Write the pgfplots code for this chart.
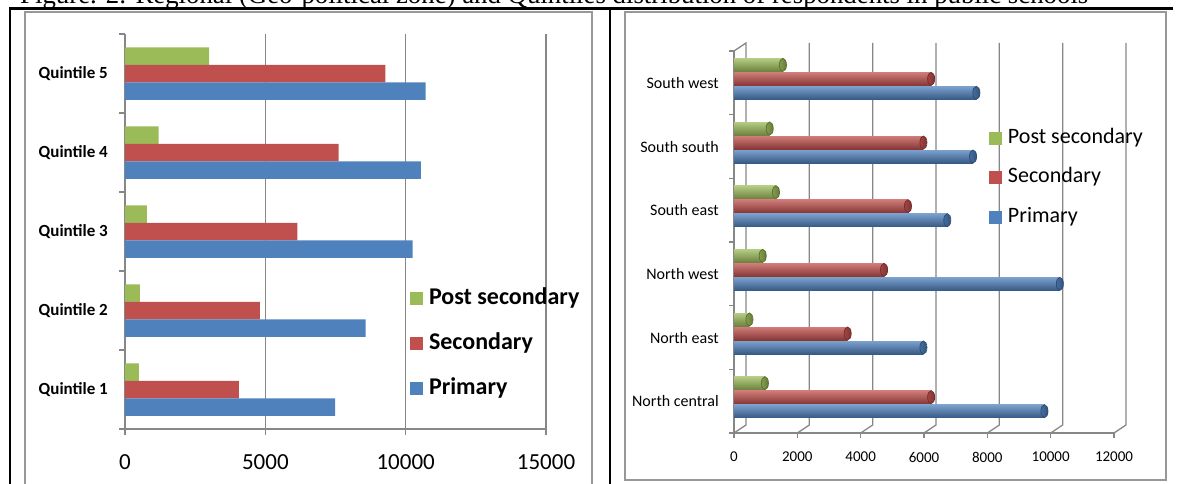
\documentclass[border=0pt]{standalone}
\usepackage{fontspec}
\setmainfont{Carlito}
\newfontfamily\timesfont{Liberation Serif}
\usepackage{pgfplots}
\pgfplotsset{compat=1.18}
\usetikzlibrary{shapes.geometric}
\definecolor{xblue}{HTML}{4F81BD}
\definecolor{xred}{HTML}{C0504D}
\definecolor{xgreen}{HTML}{9BBB59}
\definecolor{framegrey}{HTML}{989898}
\definecolor{axgrey}{HTML}{878787}
\begin{document}
\begin{tikzpicture}[x=1pt,y=1pt]
\useasboundingbox (0,0) rectangle (1178,483);
\clip (0,0) rectangle (1178,483);
% caption (cut off at the top)
\node[anchor=base west, inner sep=0pt, font=\timesfont\fontsize{26.8}{30}\selectfont] at (20,479.5)
  {Figure. 2: Regional (Geo-political zone) and Quintiles distribution of respondents in public schools};
% table rules
\draw[line width=2.6pt] (9,474.5) -- (1173,474.5);
\draw[line width=2pt] (10,475) -- (10,-2);
\draw[line width=2pt] (610,475) -- (610,-2);
% chart frames
\draw[framegrey, line width=2pt] (25,-5) -- (25,471) -- (592,471) -- (592,-5);
\draw[framegrey, line width=2pt] (625,3) rectangle (1166,471);
% 3D back wall of right chart
\begin{scope}[axgrey, line width=1.3pt]
\draw (734,432) -- (746,440) -- (746,58) -- (734,50);
\foreach \k in {1,...,6}{
  \pgfmathsetmacro{\fx}{734+63.333*\k}
  \draw (\fx,50) -- (\fx+12,58) -- (\fx+12,440);
}
\end{scope}

% ---------------- left chart ----------------
\begin{axis}[
  at={(125pt,54pt)}, anchor=south west, scale only axis,
  width=421pt, height=395pt,
  xmin=0, xmax=15000, ymin=-0.5, ymax=4.5,
  xbar,
  axis x line*=bottom, axis y line*=left,
  axis line style={axgrey, line width=1.3pt, -},
  tick style={axgrey, line width=1.2pt},
  tick align=outside, major tick length=6pt,
  xtick={0,5000,10000,15000}, xticklabels={0,5000,10000,15000},
  xticklabel style={anchor=center, yshift=-27pt, font=\fontsize{23}{26}\selectfont},
  xmajorgrids, major grid style={axgrey, line width=1.2pt},
  ytick={-0.5,0.5,...,4.5}, yticklabels={},
  extra y ticks={0,1,2,3,4},
  extra y tick labels={Quintile 1,Quintile 2,Quintile 3,Quintile 4,Quintile 5},
  extra y tick style={major tick length=0pt, grid=none},
  yticklabel style={anchor=east, inner sep=0pt, xshift=-17pt, font=\bfseries\fontsize{17}{20}\selectfont},
  legend image code/.code={\fill[#1, draw=none] (0pt,-6.5pt) rectangle (13pt,6.5pt);},
  legend style={at={(0.677,0.359)}, anchor=north west, draw=none, fill=none,
    inner sep=0pt, outer sep=0pt, row sep=23pt,
    nodes={inner sep=0pt, text height=17pt, text depth=5pt},
    /tikz/every odd column/.append style={column sep=6pt},
    font=\bfseries\fontsize{24}{28}\selectfont},
  legend cell align=left,
]
\addlegendimage{fill=xgreen, draw=none}\addlegendentry{Post secondary}
\addlegendimage{fill=xred, draw=none}\addlegendentry{Secondary}
\addlegendimage{fill=xblue, draw=none}\addlegendentry{Primary}
\addplot[forget plot, xbar, bar width=17.5pt, bar shift=17.5pt, fill=xgreen, draw=none]
  coordinates {(490,0) (531,1) (776,2) (1197,3) (2993,4)};
\addplot[forget plot, xbar, bar width=17.5pt, bar shift=0pt, fill=xred, draw=none]
  coordinates {(4055,0) (4803,1) (6138,2) (7607,3) (9280,4)};
\addplot[forget plot, xbar, bar width=17.5pt, bar shift=-17.5pt, fill=xblue, draw=none]
  coordinates {(7483,0) (8573,1) (10246,2) (10545,3) (10710,4)};
\end{axis}

% ---------------- right chart ----------------
\begin{axis}[
  at={(734pt,50pt)}, anchor=south west, scale only axis,
  width=380pt, height=382pt,
  xmin=0, xmax=12000, ymin=-0.5, ymax=5.5,
  xbar,
  axis x line*=bottom, axis y line*=left,
  axis line style={axgrey, line width=1.3pt, -},
  tick style={axgrey, line width=1.2pt},
  tick align=outside, major tick length=5pt,
  xtick={0,2000,...,12000}, xticklabels={0,2000,4000,6000,8000,10000,12000},
  xticklabel style={anchor=center, yshift=-19pt, font=\fontsize{15}{18}\selectfont},
  ytick={-0.5,0.5,...,5.5}, yticklabels={},
  extra y ticks={0,1,2,3,4,5},
  extra y tick labels={North central,North east,North west,South east,South south,South west},
  extra y tick style={major tick length=0pt},
  yticklabel style={anchor=east, inner sep=0pt, xshift=-15pt, font=\fontsize{16}{19}\selectfont},
  legend image code/.code={\fill[#1, draw=none] (0pt,-6.5pt) rectangle (13pt,6.5pt);},
  legend style={at={(0.671,0.798)}, anchor=north west, draw=none, fill=none,
    inner sep=0pt, outer sep=0pt, row sep=19.5pt,
    nodes={inner sep=0pt, text height=15pt, text depth=5pt},
    /tikz/every odd column/.append style={column sep=6pt},
    font=\fontsize{22}{26}\selectfont},
  legend cell align=left,
  every node near coord/.style={ellipse, anchor=center, inner sep=0pt, minimum width=7pt, minimum height=13pt},
  cyl/.style 2 args={forget plot, xbar, bar width=13pt, bar shift=#2, draw=none,
    top color=#1!75!white, middle color=#1, bottom color=#1!70!black,
    nodes near coords={},
    every node near coord/.append style={yshift=#2, draw=#1!60!black, line width=0.8pt,
      left color=#1!85!black, right color=#1!65!black}},
]
\addlegendimage{fill=xgreen, draw=none}\addlegendentry{Post secondary}
\addlegendimage{fill=xred, draw=none}\addlegendentry{Secondary}
\addlegendimage{fill=xblue, draw=none}\addlegendentry{Primary}
% Post secondary
\addplot[cyl={xgreen}{18pt}] coordinates {(976,0)};
\addplot[cyl={xgreen}{18pt}] coordinates {(488,1)};
\addplot[cyl={xgreen}{18pt}] coordinates {(906,2)};
\addplot[cyl={xgreen}{18pt}] coordinates {(1324,3)};
\addplot[cyl={xgreen}{18pt}] coordinates {(1127,4)};
\addplot[cyl={xgreen}{18pt}] coordinates {(1545,5)};
% Secondary
\addplot[cyl={xred}{4pt}] coordinates {(6225,0)};
\addplot[cyl={xred}{4pt}] coordinates {(3589,1)};
\addplot[cyl={xred}{4pt}] coordinates {(4739,2)};
\addplot[cyl={xred}{4pt}] coordinates {(5494,3)};
\addplot[cyl={xred}{4pt}] coordinates {(5981,4)};
\addplot[cyl={xred}{4pt}] coordinates {(6225,5)};
% Primary
\addplot[cyl={xblue}{-10pt}] coordinates {(9803,0)};
\addplot[cyl={xblue}{-10pt}] coordinates {(5981,1)};
\addplot[cyl={xblue}{-10pt}] coordinates {(10290,2)};
\addplot[cyl={xblue}{-10pt}] coordinates {(6736,3)};
\addplot[cyl={xblue}{-10pt}] coordinates {(7549,4)};
\addplot[cyl={xblue}{-10pt}] coordinates {(7654,5)};
\end{axis}
\end{tikzpicture}
\end{document}
